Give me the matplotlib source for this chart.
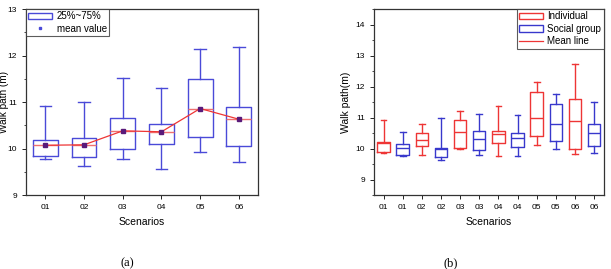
import matplotlib
matplotlib.use("Agg")
import matplotlib.pyplot as plt
from matplotlib.patches import Patch
from matplotlib.lines import Line2D

plt.rcParams['font.family'] = ['Liberation Sans', 'DejaVu Sans']

# (a) walk path per scenario
scen_a = ["01", "02", "03", "04", "05", "06"]
low_a = [9.77, 9.62, 9.77, 9.55, 9.92, 9.72]
q1_a = [9.84, 9.81, 9.98, 10.09, 10.25, 10.05]
med_a = [10.07, 10.08, 10.38, 10.36, 10.86, 10.63]
q3_a = [10.18, 10.22, 10.66, 10.53, 11.49, 10.89]
high_a = [10.91, 10.99, 11.51, 11.31, 12.13, 12.18]
mean_a = [10.07, 10.08, 10.38, 10.36, 10.86, 10.63]

# (b) individual vs social group, alternating
scen_b = ["01", "01", "02", "02", "03", "03", "04", "04", "05", "05", "06", "06"]
group_b = ["ind", "soc"] * 6
low_b = [9.84, 9.77, 9.78, 9.62, 10.00, 9.79, 9.75, 9.77, 10.11, 9.98, 9.83, 9.84]
q1_b = [9.88, 9.80, 10.07, 9.74, 10.02, 9.95, 10.19, 10.04, 10.40, 10.24, 9.99, 10.07]
med_b = [10.19, 10.02, 10.27, 10.00, 10.52, 10.31, 10.47, 10.33, 10.97, 10.80, 10.88, 10.51]
q3_b = [10.21, 10.16, 10.49, 10.03, 10.92, 10.58, 10.58, 10.49, 11.81, 11.44, 11.59, 10.78]
high_b = [10.92, 10.54, 10.79, 10.97, 11.21, 11.11, 11.36, 11.07, 12.13, 11.77, 12.74, 11.50]

BLUE_A = "#4a4ad8"
RED = "#ee3535"
BLUE_B = "#3838cc"


def make_stats(low, q1, med, q3, high):
    return [dict(whislo=a, q1=b, med=c, q3=d, whishi=e, fliers=[])
            for a, b, c, d, e in zip(low, q1, med, q3, high)]


def style_axis(ax):
    ax.tick_params(axis='both', labelsize=6, length=3, width=0.6, direction='out')
    ax.tick_params(axis='y', which='minor', length=1.5, width=0.5)
    for s in ax.spines.values():
        s.set_linewidth(0.9)
        s.set_color("#333333")


def style_legend(leg):
    leg.get_frame().set_edgecolor("#333333")
    leg.get_frame().set_linewidth(0.8)


fig = plt.figure(figsize=(6.11, 2.69), dpi=100)

# ---- panel (a)
ax1 = fig.add_axes([0.0426, 0.275, 0.38, 0.6915])
pos_a = list(range(1, len(scen_a) + 1))
ax1.bxp(make_stats(low_a, q1_a, med_a, q3_a, high_a), positions=pos_a, widths=0.64,
        showfliers=False,
        boxprops=dict(color=BLUE_A, linewidth=1.0),
        whiskerprops=dict(color=BLUE_A, linewidth=1.0),
        capprops=dict(color=BLUE_A, linewidth=1.0),
        medianprops=dict(color="#f07070", linewidth=1.0),
        capwidths=0.3)
ax1.plot(pos_a, mean_a, color=RED, linewidth=0.9, zorder=3)
ax1.plot(pos_a, mean_a, 's', color="#5a1a7a", markersize=2.2, zorder=4)
ax1.set_xlim(0.5, 6.5)
ax1.set_ylim(9, 13)
ax1.set_yticks([9, 10, 11, 12, 13])
ax1.set_yticks([9.5, 10.5, 11.5, 12.5], minor=True)
ax1.set_xticks(pos_a)
ax1.set_xticklabels(scen_a)
ax1.set_xlabel("Scenarios", fontsize=7.5, labelpad=4)
ax1.set_ylabel("Walk path (m)", fontsize=7.2)
ax1.yaxis.set_label_coords(-0.072, 0.5)
style_axis(ax1)
h1 = [Patch(facecolor='white', edgecolor=BLUE_A, linewidth=1.0),
      Line2D([], [], marker='s', linestyle='none', color=BLUE_A, markersize=2)]
leg1 = ax1.legend(h1, ["25%~75%", "mean value"], loc='upper left', fontsize=7,
                  frameon=True, fancybox=False, borderpad=0.25, labelspacing=0.25,
                  handlelength=2.4, handletextpad=0.5, borderaxespad=0.0)
style_legend(leg1)

# ---- panel (b)
ax2 = fig.add_axes([0.612, 0.275, 0.376, 0.6915])
pos_b = list(range(1, len(scen_b) + 1))
colors_b = [RED if g == "ind" else BLUE_B for g in group_b]
stats_b = make_stats(low_b, q1_b, med_b, q3_b, high_b)
for p, st, c in zip(pos_b, stats_b, colors_b):
    ax2.bxp([st], positions=[p], widths=0.65, showfliers=False,
            boxprops=dict(color=c, linewidth=1.0),
            whiskerprops=dict(color=c, linewidth=1.0),
            capprops=dict(color=c, linewidth=1.0),
            medianprops=dict(color=c, linewidth=1.0),
            capwidths=0.3, manage_ticks=False)
ax2.set_xlim(0.5, 12.5)
ax2.set_ylim(8.5, 14.5)
ax2.set_yticks([9, 10, 11, 12, 13, 14])
ax2.set_yticks([8.5, 9.5, 10.5, 11.5, 12.5, 13.5, 14.5], minor=True)
ax2.set_xticks(pos_b)
ax2.set_xticklabels(scen_b)
ax2.set_xlabel("Scenarios", fontsize=7.5, labelpad=4)
ax2.set_ylabel("Walk path(m)", fontsize=7.5, labelpad=3)
style_axis(ax2)
h2 = [Patch(facecolor='white', edgecolor=RED, linewidth=1.0),
      Patch(facecolor='white', edgecolor=BLUE_B, linewidth=1.0),
      Line2D([], [], color=RED, linewidth=0.9)]
leg2 = ax2.legend(h2, ["Individual", "Social group", "Mean line"], loc='upper right',
                  fontsize=7, frameon=True, fancybox=False, borderpad=0.25,
                  labelspacing=0.25, handlelength=2.4, handletextpad=0.5,
                  borderaxespad=0.0)
style_legend(leg2)

fig.text(0.208, 0.0, "(a)", fontsize=9, ha='center', va='bottom',
         family='Liberation Serif')
fig.text(0.737, 0.0, "(b)", fontsize=9, ha='center', va='bottom',
         family='Liberation Serif')

fig.savefig("out.png", dpi=100)
